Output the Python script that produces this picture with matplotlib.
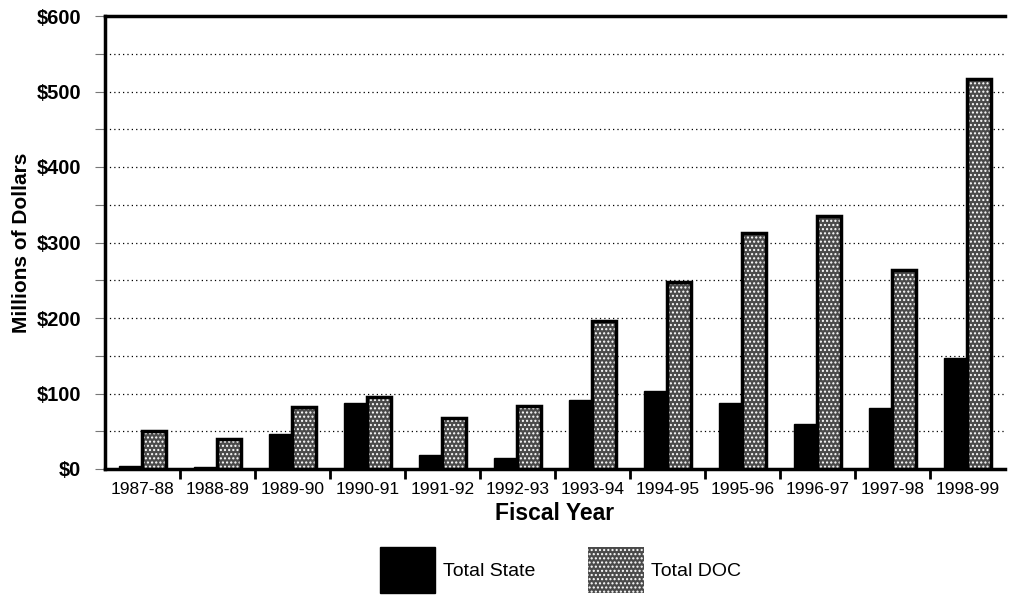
import matplotlib
matplotlib.use("Agg")
import matplotlib.pyplot as plt
import numpy as np
from matplotlib.patches import Patch

years = ["1987-88", "1988-89", "1989-90", "1990-91", "1991-92", "1992-93",
         "1993-94", "1994-95", "1995-96", "1996-97", "1997-98", "1998-99"]
total_state = [4, 2, 46, 88, 18, 15, 91, 103, 88, 60, 81, 147]
total_doc = [50, 40, 82, 96, 68, 84, 196, 248, 313, 335, 263, 517]
yticks = [0, 100, 200, 300, 400, 500, 600]
ytick_labels = ["$0", "$100", "$200", "$300", "$400", "$500", "$600"]

plt.rcParams['font.family'] = ['Liberation Sans', 'DejaVu Sans']
plt.rcParams['hatch.linewidth'] = 1.0

fig = plt.figure(figsize=(10.12, 5.97), dpi=100)
ax = fig.add_axes([105/1012, 1-469/597, 900/1012, (469-16)/597])

x = np.arange(len(years))
w = 0.31
ax.bar(x - w/2, total_state, w, color='black', edgecolor='black', linewidth=1, zorder=3)
ax.bar(x + w/2, total_doc, w, color='#4a4a4a', edgecolor='white', hatch='....', linewidth=0, zorder=3)
ax.bar(x + w/2, total_doc, w, fill=False, edgecolor='black', linewidth=2.5, zorder=4)

ax.set_xlim(-0.5, len(years) - 0.5)
ax.set_ylim(0, 600)
ax.set_yticks(yticks)
ax.set_yticklabels(ytick_labels, fontsize=14.5, fontweight='bold')
ax.set_yticks(np.arange(0, 601, 50), minor=True)
ax.yaxis.grid(True, which='both', linestyle=(0, (1, 2.5)), color='black', linewidth=0.9)
ax.set_axisbelow(True)
ax.tick_params(axis='y', which='both', length=7, width=0.8, color='#777777', pad=10)

ax.set_xticks(x)
ax.set_xticklabels(years, fontsize=12.5)
ax.tick_params(axis='x', which='major', length=0, pad=9)
ax.set_xticks(np.arange(0.5, len(years) - 0.5, 1), minor=True)
ax.tick_params(axis='x', which='minor', length=7, width=2, direction='out')

for s in ['left', 'top', 'bottom']:
    ax.spines[s].set_linewidth(2.5)
ax.spines['right'].set_visible(False)

ax.set_ylabel("Millions of Dollars", fontsize=15, fontweight='bold', labelpad=4)
ax.set_xlabel("Fiscal Year", fontsize=16.5, fontweight='bold', labelpad=4)

handles = [Patch(facecolor='black', edgecolor='black'),
           Patch(facecolor='#4a4a4a', edgecolor='white', hatch='....', linewidth=0)]
fig.legend(handles, ["Total State", "Total DOC"], loc='center', bbox_to_anchor=(0.554, 0.045),
           ncol=2, frameon=False, handlelength=2.85, handleheight=3.3, columnspacing=2.7,
           handletextpad=0.4, fontsize=14, borderpad=0.1)

fig.savefig("out.png", dpi=100)
